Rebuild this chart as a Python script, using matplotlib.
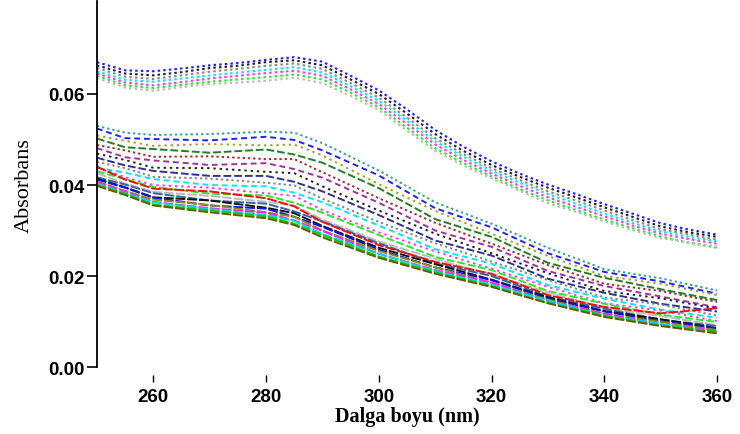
import matplotlib.pyplot as plt

# wavelength grids (nm)
wl_up = [250, 255, 260, 265, 270, 275, 280, 285, 290, 295, 300, 305,
         310, 315, 320, 325, 330, 335, 340, 345, 350, 355, 360]
wl = [250, 255, 260, 270, 280, 285, 290, 300, 310, 320, 330, 340, 350, 360]

# upper group of spectra (absorbance)
up_blue = [0.0670, 0.0652, 0.0650, 0.0656, 0.0663, 0.0668, 0.0675, 0.0681, 0.0671, 0.0640, 0.0608, 0.0566,
           0.0521, 0.0484, 0.0452, 0.0425, 0.0401, 0.0380, 0.0358, 0.0337, 0.0316, 0.0302, 0.0291]
up_black = [0.0663, 0.0645, 0.0641, 0.0648, 0.0657, 0.0662, 0.0670, 0.0674, 0.0663, 0.0632, 0.0600, 0.0557,
            0.0512, 0.0475, 0.0444, 0.0418, 0.0394, 0.0373, 0.0351, 0.0330, 0.0309, 0.0296, 0.0286]
up_gray = [0.0657, 0.0638, 0.0633, 0.0641, 0.0649, 0.0655, 0.0662, 0.0667, 0.0655, 0.0624, 0.0592, 0.0548,
           0.0503, 0.0468, 0.0437, 0.0411, 0.0386, 0.0366, 0.0344, 0.0323, 0.0303, 0.0291, 0.0280]
up_cyan = [0.0650, 0.0631, 0.0627, 0.0634, 0.0641, 0.0647, 0.0653, 0.0659, 0.0647, 0.0617, 0.0585, 0.0541,
           0.0496, 0.0462, 0.0431, 0.0405, 0.0380, 0.0359, 0.0337, 0.0317, 0.0298, 0.0286, 0.0276]
up_magenta = [0.0645, 0.0625, 0.0619, 0.0626, 0.0634, 0.0640, 0.0646, 0.0651, 0.0640, 0.0610, 0.0578, 0.0534,
              0.0489, 0.0455, 0.0425, 0.0398, 0.0373, 0.0352, 0.0331, 0.0311, 0.0293, 0.0281, 0.0271]
up_green = [0.0640, 0.0619, 0.0613, 0.0620, 0.0627, 0.0632, 0.0637, 0.0643, 0.0632, 0.0603, 0.0571, 0.0526,
            0.0481, 0.0448, 0.0419, 0.0391, 0.0366, 0.0345, 0.0324, 0.0305, 0.0287, 0.0273, 0.0262]
up_lgray = [0.0635, 0.0614, 0.0607, 0.0615, 0.0622, 0.0625, 0.0629, 0.0636, 0.0624, 0.0596, 0.0565, 0.0520,
            0.0475, 0.0443, 0.0415, 0.0387, 0.0360, 0.0341, 0.0320, 0.0301, 0.0283, 0.0274, 0.0265]

# lower group of spectra (absorbance), top to bottom
lo_01 = [0.0530, 0.0515, 0.0510, 0.0512, 0.0517, 0.0515, 0.0492, 0.0432, 0.0362, 0.0315, 0.0262, 0.0215, 0.0195, 0.0168]
lo_02 = [0.0524, 0.0503, 0.0501, 0.0498, 0.0506, 0.0499, 0.0476, 0.0421, 0.0349, 0.0307, 0.0250, 0.0209, 0.0188, 0.0161]
lo_03 = [0.0509, 0.0497, 0.0486, 0.0490, 0.0487, 0.0489, 0.0465, 0.0402, 0.0343, 0.0293, 0.0244, 0.0200, 0.0183, 0.0158]
lo_04 = [0.0502, 0.0483, 0.0479, 0.0471, 0.0478, 0.0467, 0.0449, 0.0393, 0.0325, 0.0286, 0.0229, 0.0196, 0.0171, 0.0147]
lo_05 = [0.0488, 0.0476, 0.0462, 0.0463, 0.0457, 0.0457, 0.0428, 0.0371, 0.0317, 0.0271, 0.0224, 0.0183, 0.0167, 0.0143]
lo_06 = [0.0481, 0.0461, 0.0454, 0.0444, 0.0448, 0.0435, 0.0416, 0.0361, 0.0300, 0.0264, 0.0211, 0.0178, 0.0155, 0.0131]
lo_07 = [0.0469, 0.0455, 0.0438, 0.0437, 0.0429, 0.0426, 0.0397, 0.0344, 0.0293, 0.0250, 0.0206, 0.0167, 0.0151, 0.0128]
lo_08 = [0.0460, 0.0443, 0.0431, 0.0420, 0.0420, 0.0407, 0.0386, 0.0334, 0.0278, 0.0245, 0.0194, 0.0163, 0.0139, 0.0122]
lo_09 = [0.0451, 0.0437, 0.0418, 0.0414, 0.0405, 0.0399, 0.0370, 0.0319, 0.0272, 0.0232, 0.0191, 0.0153, 0.0137, 0.0113]
lo_10 = [0.0438, 0.0427, 0.0413, 0.0400, 0.0397, 0.0383, 0.0362, 0.0311, 0.0259, 0.0227, 0.0180, 0.0150, 0.0126, 0.0108]
lo_11 = [0.0440, 0.0417, 0.0400, 0.0394, 0.0382, 0.0376, 0.0345, 0.0296, 0.0254, 0.0216, 0.0176, 0.0140, 0.0124, 0.0101]
lo_12 = [0.0430, 0.0413, 0.0396, 0.0381, 0.0377, 0.0361, 0.0339, 0.0290, 0.0242, 0.0213, 0.0167, 0.0139, 0.0115, 0.0099]
lo_13 = [0.0426, 0.0403, 0.0385, 0.0376, 0.0363, 0.0355, 0.0324, 0.0276, 0.0238, 0.0202, 0.0164, 0.0130, 0.0112, 0.0092]
lo_14 = [0.0417, 0.0401, 0.0382, 0.0366, 0.0359, 0.0342, 0.0320, 0.0272, 0.0228, 0.0200, 0.0155, 0.0128, 0.0104, 0.0090]
lo_15 = [0.0440, 0.0412, 0.0392, 0.0386, 0.0371, 0.0353, 0.0319, 0.0268, 0.0231, 0.0205, 0.0158, 0.0132, 0.0118, 0.0129]
lo_16 = [0.0414, 0.0395, 0.0373, 0.0366, 0.0350, 0.0338, 0.0310, 0.0262, 0.0226, 0.0192, 0.0153, 0.0123, 0.0105, 0.0085]
lo_17 = [0.0412, 0.0394, 0.0372, 0.0355, 0.0348, 0.0330, 0.0308, 0.0258, 0.0219, 0.0191, 0.0150, 0.0122, 0.0100, 0.0085]
lo_18 = [0.0408, 0.0387, 0.0368, 0.0356, 0.0340, 0.0330, 0.0300, 0.0255, 0.0219, 0.0185, 0.0148, 0.0117, 0.0099, 0.0081]
lo_19 = [0.0406, 0.0386, 0.0363, 0.0349, 0.0339, 0.0322, 0.0299, 0.0249, 0.0213, 0.0186, 0.0145, 0.0117, 0.0094, 0.0080]
lo_20 = [0.0403, 0.0382, 0.0362, 0.0347, 0.0334, 0.0321, 0.0292, 0.0249, 0.0211, 0.0181, 0.0146, 0.0113, 0.0095, 0.0076]
lo_21 = [0.0400, 0.0381, 0.0357, 0.0344, 0.0331, 0.0315, 0.0290, 0.0243, 0.0208, 0.0178, 0.0141, 0.0113, 0.0091, 0.0078]
lo_22 = [0.0398, 0.0378, 0.0355, 0.0340, 0.0327, 0.0312, 0.0285, 0.0240, 0.0205, 0.0176, 0.0140, 0.0110, 0.0090, 0.0074]

upper = [up_blue, up_black, up_gray, up_cyan, up_magenta, up_green, up_lgray]
upper_colors = ['#2020ff', '#202020', '#888888', '#00e8f0', '#ff30ff', '#20ee20', '#bbbbbb']

lower = [lo_01, lo_02, lo_03, lo_04, lo_05, lo_06, lo_07, lo_08, lo_09, lo_10, lo_11,
         lo_12, lo_13, lo_14, lo_15, lo_16, lo_17, lo_18, lo_19, lo_20, lo_21, lo_22]
lower_colors = ['#33a0a0', '#2020ff', '#a0a030', '#208020', '#a03030', '#a030a0',
                '#202020', '#303090', '#888888', '#00e8f0', '#ff30ff', '#20ee20',
                '#bbbbbb', '#336699', '#ee1010', '#101010', '#1010ee', '#909000',
                '#ff20ff', '#00d8e8', '#10cc10', '#606000']

fig = plt.figure(figsize=(7.4, 4.35), dpi=100)
ax = fig.add_axes([0.131, 0.154, 0.838, 0.841])

for y, c in zip(upper, upper_colors):
    ax.plot(wl_up, y, color=c, lw=1.5, linestyle=(0, (1.2, 1.5)))

styles = [(0, (1.2, 1.5)), (0, (3, 2)), (0, (1.2, 2.0)), (0, (4, 1.5))]
for i, (y, c) in enumerate(zip(lower, lower_colors)):
    ls = styles[i % 4] if i < 12 else (0, (5, 1))
    ax.plot(wl, y, color=c, lw=1.4, linestyle=ls)

ax.set_xlim(250, 360)
ax.set_ylim(0, 0.0804)
ax.set_xticks([260, 280, 300, 320, 340, 360])
ax.set_yticks([0.0, 0.02, 0.04, 0.06])
ax.set_yticklabels(['0.00', '0.02', '0.04', '0.06'])

for s in ['top', 'right', 'bottom']:
    ax.spines[s].set_visible(False)
ax.spines['left'].set_linewidth(1.3)
ax.spines['bottom'].set_position(('outward', 6))

ax.tick_params(axis='y', direction='out', length=7, width=1.2, pad=2)
ax.tick_params(axis='x', direction='out', length=5, width=1.0, pad=4)
for lab in ax.get_xticklabels() + ax.get_yticklabels():
    lab.set_fontfamily('Liberation Sans')
    lab.set_fontweight('bold')
    lab.set_fontsize(13.5)

ax.set_xlabel('Dalga boyu (nm)', family='Liberation Serif', fontsize=14.5, fontweight='bold', labelpad=1)
ax.set_ylabel('Absorbans', family='Liberation Serif', fontsize=16, labelpad=10)

plt.savefig('out.png', dpi=100)
